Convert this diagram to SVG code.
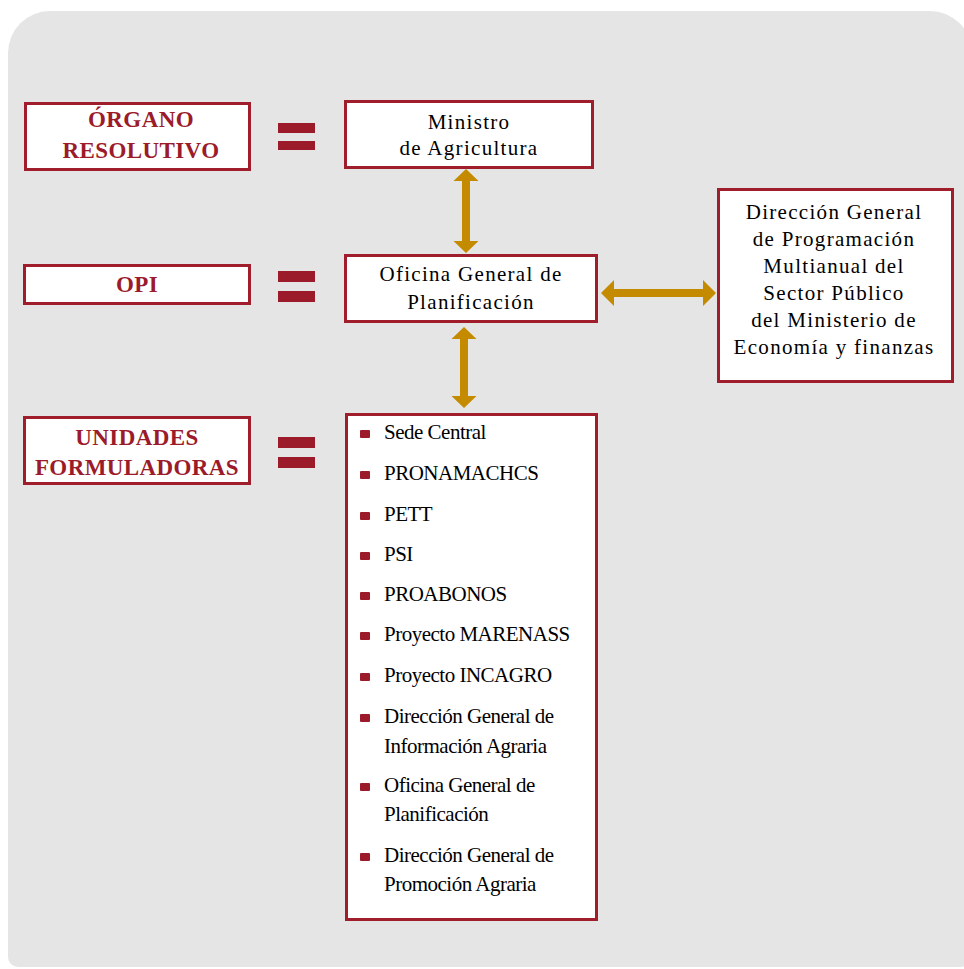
<svg xmlns="http://www.w3.org/2000/svg" width="964" height="969" viewBox="0 0 964 969">
<style>
.bg{fill:#e5e5e5}
.box{fill:#fff;stroke:#a01d2c;stroke-width:3}
.lbl{font-family:"Liberation Serif",serif;font-weight:bold;font-size:23px;fill:#9b1b2a;text-anchor:middle;letter-spacing:0.4px}
.txt{font-family:"Liberation Serif",serif;font-size:21px;fill:#000;text-anchor:middle;letter-spacing:1.3px}
.item{font-family:"Liberation Serif",serif;font-size:21px;fill:#000;letter-spacing:-0.5px}
.eq{fill:#9b1b2a}
.bul{fill:#9b1b2a}
.arr{fill:#c48a00}
</style>
<path class="bg" d="M8,53 A42,42 0 0 1 50,11 L930,11 A42,42 0 0 1 972,53 L972,955 A12,12 0 0 1 960,967 L18,967 A10,10 0 0 1 8,957 Z"/>

<g id="organo-resolutivo">
<rect class="box" x="25.5" y="103.5" width="224" height="66"/>
<text class="lbl" x="141" y="127">ÓRGANO</text>
<text class="lbl" x="141" y="158">RESOLUTIVO</text>
</g>
<g id="eq1"><rect class="eq" x="278" y="123" width="37" height="10"/><rect class="eq" x="278" y="141" width="37" height="9"/></g>

<g id="ministro">
<rect class="box" x="345.5" y="101.5" width="247" height="66"/>
<text class="txt" x="469" y="129">Ministro</text>
<text class="txt" x="469" y="155">de Agricultura</text>
</g>

<g id="opi">
<rect class="box" x="24.5" y="265.5" width="225" height="38"/>
<text class="lbl" x="137" y="292">OPI</text>
</g>
<g id="eq2"><rect class="eq" x="278" y="271" width="37" height="11"/><rect class="eq" x="278" y="291" width="37" height="11"/></g>

<g id="oficina">
<rect class="box" x="345.5" y="255.5" width="251" height="66"/>
<text class="txt" x="471" y="281">Oficina General de</text>
<text class="txt" x="471" y="309">Planificación</text>
</g>

<g id="dgpm">
<rect class="box" x="718.5" y="189.5" width="234" height="192"/>
<text class="txt" x="834" y="219">Dirección General</text>
<text class="txt" x="834" y="246">de Programación</text>
<text class="txt" x="834" y="273">Multianual del</text>
<text class="txt" x="834" y="300">Sector Público</text>
<text class="txt" x="834" y="327">del Ministerio de</text>
<text class="txt" x="834" y="354">Economía y finanzas</text>
</g>

<g id="unidades">
<rect class="box" x="24.5" y="417.5" width="225" height="66"/>
<text class="lbl" x="137" y="445">UNIDADES</text>
<text class="lbl" x="137" y="475">FORMULADORAS</text>
</g>
<g id="eq3"><rect class="eq" x="278" y="437" width="37" height="11"/><rect class="eq" x="278" y="457" width="37" height="11"/></g>

<g id="lista">
<rect class="box" x="346.5" y="414.5" width="250" height="505"/>
<rect class="bul" x="360" y="430" width="10" height="8" rx="1"/><text class="item" x="384" y="439">Sede Central</text>
<rect class="bul" x="360" y="471" width="10" height="8" rx="1"/><text class="item" x="384" y="480">PRONAMACHCS</text>
<rect class="bul" x="360" y="512" width="10" height="8" rx="1"/><text class="item" x="384" y="521">PETT</text>
<rect class="bul" x="360" y="552" width="10" height="8" rx="1"/><text class="item" x="384" y="561">PSI</text>
<rect class="bul" x="360" y="592" width="10" height="8" rx="1"/><text class="item" x="384" y="601">PROABONOS</text>
<rect class="bul" x="360" y="632" width="10" height="8" rx="1"/><text class="item" x="384" y="641">Proyecto MARENASS</text>
<rect class="bul" x="360" y="673" width="10" height="8" rx="1"/><text class="item" x="384" y="682">Proyecto INCAGRO</text>
<rect class="bul" x="360" y="714" width="10" height="8" rx="1"/><text class="item" x="384" y="723">Dirección General de</text>
<text class="item" x="384" y="753">Información Agraria</text>
<rect class="bul" x="360" y="783" width="10" height="8" rx="1"/><text class="item" x="384" y="792">Oficina General de</text>
<text class="item" x="384" y="821">Planificación</text>
<rect class="bul" x="360" y="853" width="10" height="8" rx="1"/><text class="item" x="384" y="862">Dirección General de</text>
<text class="item" x="384" y="891">Promoción Agraria</text>
</g>

<g id="connectors">
<polygon class="arr" points="466,169 478.5,181 470,181 470,241 478.5,241 466,253 453.5,241 462,241 462,181 453.5,181"/>
<polygon class="arr" points="464,327 476.5,339 468,339 468,396 476.5,396 464,408 451.5,396 460,396 460,339 451.5,339"/>
<polygon class="arr" points="601,293 614,280 614,289 703,289 703,280 716,293 703,306 703,297 614,297 614,306"/>
</g>
</svg>
